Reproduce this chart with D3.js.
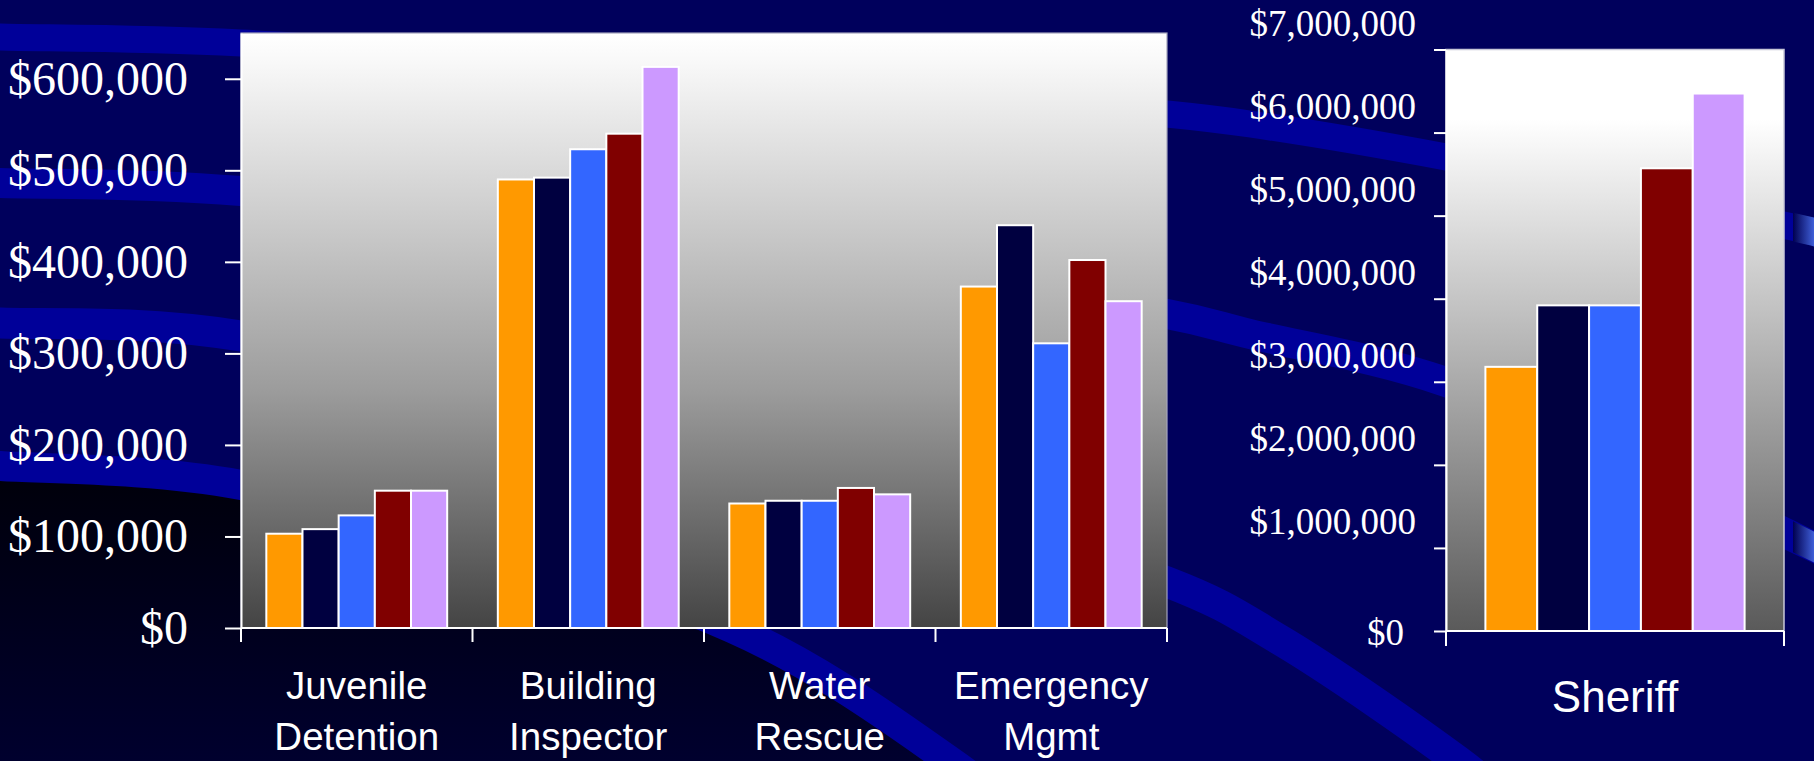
<!DOCTYPE html>
<html><head><meta charset="utf-8">
<script src="https://cdn.jsdelivr.net/npm/d3@7"></script>
<style>html,body{margin:0;padding:0;background:#00005c;overflow:hidden}</style>
</head><body><svg id="c" width="1814" height="761"></svg>
<script>
// ---------- data ----------
const categories = ["Juvenile Detention", "Building Inspector", "Water Rescue", "Emergency Mgmt"];
const seriesNames = ["Series 1", "Series 2", "Series 3", "Series 4", "Series 5"];
const seriesColors = ["#FF9900", "#000040", "#3366FF", "#800000", "#CC99FF"];
const series1 = [103000, 490000, 136000, 373000];
const series2 = [108000, 492000, 139000, 440000];
const series3 = [123000, 523000, 139000, 311000];
const series4 = [150000, 540000, 153000, 402000];
const series5 = [150000, 613000, 146000, 357000];
const sheriffCategory = "Sheriff";
const sheriffValues = [3180000, 3920000, 3920000, 5570000, 6470000];
const leftTicks = [0, 100000, 200000, 300000, 400000, 500000, 600000];
const rightTicks = [0, 1000000, 2000000, 3000000, 4000000, 5000000, 6000000, 7000000];

// ---------- decorative background swooshes (not data) ----------
const swooshA = [[-30,36],[0,37],[241,43],[1167,114],[1250,124],[1446,157],[1814,232],[1850,242]];
const swooshB = [[-30,182],[0,183],[241,191],[1167,314],[1250,334],[1446,382],[1814,547],[1850,566]];
const swooshC = [[-30,322],[0,323],[241,336],[1167,582],[1280,640],[1458,761],[1500,795]];
const swooshD = [[-30,464],[0,466],[241,485],[732,628],[950,761],[1000,800]];

const allSeries = [series1, series2, series3, series4, series5];
const svg = d3.select("#c");
const defs = svg.append("defs");

// gradients
const gL = defs.append("linearGradient").attr("id","plotL").attr("x1",0).attr("y1",0).attr("x2",0).attr("y2",1);
gL.append("stop").attr("offset","0%").attr("stop-color","#ffffff");
gL.append("stop").attr("offset","5%").attr("stop-color","#f8f8f8");
gL.append("stop").attr("offset","60%").attr("stop-color","#9c9c9c");
gL.append("stop").attr("offset","100%").attr("stop-color","#444444");
const gR = defs.append("linearGradient").attr("id","plotR").attr("x1",0).attr("y1",0).attr("x2",0).attr("y2",1);
gR.append("stop").attr("offset","0%").attr("stop-color","#ffffff");
gR.append("stop").attr("offset","12%").attr("stop-color","#ffffff");
gR.append("stop").attr("offset","100%").attr("stop-color","#5a5a5a");
const gDark = defs.append("linearGradient").attr("id","dark").attr("gradientUnits","userSpaceOnUse")
  .attr("x1",0).attr("y1",470).attr("x2",0).attr("y2",761);
gDark.append("stop").attr("offset","0%").attr("stop-color","#00000a");
gDark.append("stop").attr("offset","100%").attr("stop-color","#00002e");
const gHi = defs.append("linearGradient").attr("id","hi").attr("gradientUnits","userSpaceOnUse")
  .attr("x1",1793).attr("y1",0).attr("x2",1814).attr("y2",0);
gHi.append("stop").attr("offset","0%").attr("stop-color","#000050");
gHi.append("stop").attr("offset","100%").attr("stop-color","#3f5fd8");
defs.append("clipPath").attr("id","hiClip").append("rect").attr("x",1793).attr("y",0).attr("width",30).attr("height",761);

// background
svg.append("rect").attr("width",1814).attr("height",761).attr("fill","#00005c");
const lineGen = d3.line().curve(d3.curveCatmullRom);
svg.append("path").attr("d", lineGen(swooshD) + "L-30,800Z").attr("fill","url(#dark)");
const swooshes = [swooshA, swooshB, swooshC, swooshD];
const swW = [27, 30, 31, 30];
svg.append("g").selectAll("path").data(swooshes).join("path")
  .attr("d", d => lineGen(d)).attr("fill","none").attr("stroke","#000099")
  .attr("stroke-width", (d,i) => swW[i]);
svg.append("g").attr("clip-path","url(#hiClip)").selectAll("path").data([swooshA, swooshB]).join("path")
  .attr("d", d => lineGen(d)).attr("fill","none").attr("stroke","url(#hi)").attr("stroke-width", 28);

// ---------- left chart ----------
const x0 = d3.scaleBand().domain(categories).range([241, 1167]).padding(0);
const x1 = d3.scaleBand().domain(seriesNames).range([0, x0.bandwidth()]).paddingInner(0).paddingOuter(0.7);
const y = d3.scaleLinear().domain([0, 650000]).range([628, 33]);

svg.append("rect").attr("x", x0.range()[0]).attr("y", y(650000))
  .attr("width", x0.range()[1] - x0.range()[0]).attr("height", y(0) - y(650000))
  .attr("fill","url(#plotL)").attr("stroke","#a4a4bc").attr("stroke-width",1.2);

const gBars = svg.append("g");
categories.forEach((cat, ci) => {
  gBars.selectAll(null).data(seriesNames).join("rect")
    .attr("x", s => x0(cat) + x1(s))
    .attr("y", (s, si) => y(allSeries[si][ci]))
    .attr("width", x1.bandwidth())
    .attr("height", (s, si) => y(0) - y(allSeries[si][ci]))
    .attr("fill", (s, si) => seriesColors[si])
    .attr("stroke", "#ffffff").attr("stroke-width", 2);
});

const fmt = d3.format("$,");
const axL = svg.append("g").attr("transform", `translate(${x0.range()[0]},0)`)
  .call(d3.axisLeft(y).tickValues(leftTicks).tickSize(16).tickPadding(37).tickSizeOuter(0).tickFormat(fmt));
axL.attr("font-family","'Liberation Serif','Times New Roman',serif").attr("font-size",48).attr("color","#ffffff");
axL.selectAll("path,line").attr("stroke","#ffffff").attr("stroke-width",2);
axL.selectAll("text").attr("fill","#ffffff");

// bottom axis line + boundary ticks
const gXL = svg.append("g").attr("stroke","#ffffff").attr("stroke-width",2);
gXL.append("line").attr("x1", x0.range()[0]).attr("x2", x0.range()[1]).attr("y1", y(0)).attr("y2", y(0));
const boundsL = categories.map(c => x0(c)).concat([x0.range()[1]]);
gXL.selectAll(null).data(boundsL).join("line")
  .attr("x1", d => d).attr("x2", d => d).attr("y1", y(0)).attr("y2", y(0) + 14);

const catLabels = svg.append("g").attr("font-family","'Liberation Sans',Arial,sans-serif")
  .attr("font-size", 38.5).attr("fill","#ffffff").attr("text-anchor","middle");
categories.forEach(cat => {
  const words = cat.split(" ");
  const t = catLabels.append("text").attr("x", x0(cat) + x0.bandwidth()/2).attr("y", 699);
  words.forEach((w, i) => t.append("tspan").attr("x", x0(cat) + x0.bandwidth()/2).attr("dy", i === 0 ? 0 : 51).text(w));
});

// ---------- right chart ----------
const xR = d3.scaleBand().domain(seriesNames).range([1446, 1784]).paddingInner(0).paddingOuter(0.76);
const yR = d3.scaleLinear().domain([0, 7000000]).range([631, 49.5]);

svg.append("rect").attr("x", xR.range()[0]).attr("y", yR(7000000))
  .attr("width", xR.range()[1] - xR.range()[0]).attr("height", yR(0) - yR(7000000))
  .attr("fill","url(#plotR)").attr("stroke","#c8c8d8").attr("stroke-width",1.5);

svg.append("g").selectAll("rect").data(sheriffValues).join("rect")
  .attr("x", (v, i) => xR(seriesNames[i]))
  .attr("y", v => yR(v))
  .attr("width", xR.bandwidth())
  .attr("height", v => yR(0) - yR(v))
  .attr("fill", (v, i) => seriesColors[i])
  .attr("stroke", "#ffffff").attr("stroke-width", 2);

const axR = svg.append("g").attr("transform", `translate(${xR.range()[0]},0)`)
  .call(d3.axisLeft(yR).tickValues(rightTicks).tickSize(12).tickPadding(18).tickSizeOuter(0).tickFormat(fmt));
axR.attr("font-family","'Liberation Serif','Times New Roman',serif").attr("font-size",37).attr("color","#ffffff");
axR.selectAll("path,line").attr("stroke","#ffffff").attr("stroke-width",2);
axR.selectAll("text").attr("fill","#ffffff")
  .attr("transform", d => d === 0 ? "translate(-12,2)" : "translate(0,-26)");

const gXR = svg.append("g").attr("stroke","#ffffff").attr("stroke-width",2);
gXR.append("line").attr("x1", xR.range()[0]).attr("x2", xR.range()[1]).attr("y1", yR(0)).attr("y2", yR(0));
gXR.selectAll(null).data(xR.range()).join("line")
  .attr("x1", d => d).attr("x2", d => d).attr("y1", yR(0)).attr("y2", yR(0) + 15);

svg.append("text").attr("x", (xR.range()[0] + xR.range()[1]) / 2).attr("y", 712)
  .attr("text-anchor","middle").attr("font-family","'Liberation Sans',Arial,sans-serif")
  .attr("font-size", 44).attr("fill","#ffffff").text(sheriffCategory);
</script>
</body></html>
